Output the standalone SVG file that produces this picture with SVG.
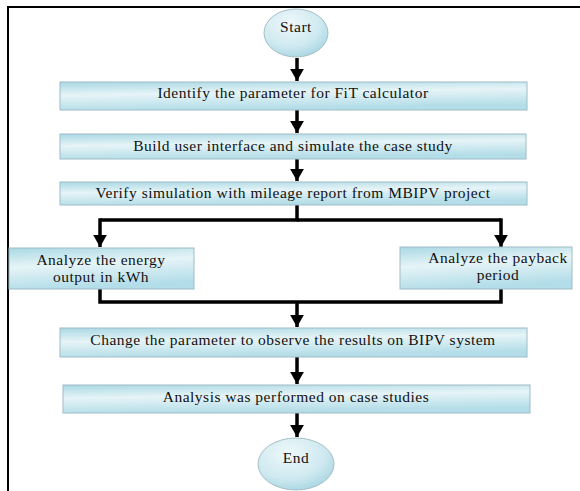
<svg xmlns="http://www.w3.org/2000/svg" width="580" height="491" viewBox="0 0 580 491">
<defs>
<linearGradient id="boxg" x1="0" y1="0" x2="0.25" y2="1">
<stop offset="0" stop-color="#a9d8e4"/>
<stop offset="0.45" stop-color="#e6f4f7"/>
<stop offset="1" stop-color="#b3dde8"/>
</linearGradient>
<radialGradient id="ellg" cx="0.4" cy="0.3" r="0.8">
<stop offset="0" stop-color="#eef8fa"/>
<stop offset="0.6" stop-color="#cfe9f0"/>
<stop offset="1" stop-color="#9fd2df"/>
</radialGradient>
<marker id="ah" markerWidth="3.5" markerHeight="4" refX="3.5" refY="2" orient="auto" markerUnits="strokeWidth">
<path d="M0,0 L3.5,2 L0,4 Z" fill="#000"/>
</marker>
</defs>
<style>
.box{fill:url(#boxg);stroke:#9fbcc6;stroke-width:1}
.ell{fill:url(#ellg);stroke:#a6bfc7;stroke-width:1}
.t{font-family:"Liberation Serif","Times New Roman",serif;font-size:15.5px;letter-spacing:0.5px;fill:#111;text-anchor:middle}
.c{fill:none;stroke:#000;stroke-width:3.5}
.frame{fill:none;stroke:#000;stroke-width:2}
</style>
<path class="frame" d="M8,491 V7 H580"/>
<g id="connectors">
<line class="c" x1="297" y1="58" x2="297" y2="81" marker-end="url(#ah)"/>
<line class="c" x1="297" y1="110" x2="297" y2="133" marker-end="url(#ah)"/>
<line class="c" x1="297" y1="159" x2="297" y2="181" marker-end="url(#ah)"/>
<path class="c" d="M297,205 V220 H100"/>
<path class="c" d="M297,220 H501"/>
<line class="c" x1="100" y1="218.3" x2="100" y2="247" marker-end="url(#ah)"/>
<line class="c" x1="501" y1="218.3" x2="501" y2="247" marker-end="url(#ah)"/>
<path class="c" d="M100,289 V302 H501 V289"/>
<line class="c" x1="297" y1="302" x2="297" y2="327" marker-end="url(#ah)"/>
<line class="c" x1="297" y1="357" x2="297" y2="384" marker-end="url(#ah)"/>
<line class="c" x1="297" y1="413" x2="297" y2="437" marker-end="url(#ah)"/>
</g>
<g id="start">
<ellipse class="ell" cx="296" cy="33" rx="32" ry="24"/>
<text class="t" x="296" y="32">Start</text>
</g>
<g id="identify">
<rect class="box" x="60" y="82" width="467" height="28"/>
<text class="t" x="293" y="98">Identify the parameter for FiT calculator</text>
</g>
<g id="build">
<rect class="box" x="60" y="134" width="466" height="25"/>
<text class="t" x="293" y="151">Build user interface and simulate the case study</text>
</g>
<g id="verify">
<rect class="box" x="60" y="182" width="467" height="23"/>
<text class="t" x="293" y="198">Verify simulation with mileage report from MBIPV project</text>
</g>
<g id="energy">
<rect class="box" x="9" y="248" width="185" height="41"/>
<text class="t" x="101" y="265">Analyze the energy</text>
<text class="t" x="101" y="282">output in kWh</text>
</g>
<g id="payback">
<rect class="box" x="400" y="247" width="172" height="42"/>
<text class="t" x="498" y="263">Analyze the payback</text>
<text class="t" x="498" y="280">period</text>
</g>
<g id="change">
<rect class="box" x="60" y="328" width="467" height="29"/>
<text class="t" x="293" y="345">Change the parameter to observe the results on BIPV system</text>
</g>
<g id="analysis">
<rect class="box" x="63" y="385" width="467" height="28"/>
<text class="t" x="296" y="402">Analysis was performed on case studies</text>
</g>
<g id="end">
<ellipse class="ell" cx="296" cy="464" rx="38" ry="26"/>
<text class="t" x="296" y="463">End</text>
</g>
</svg>
